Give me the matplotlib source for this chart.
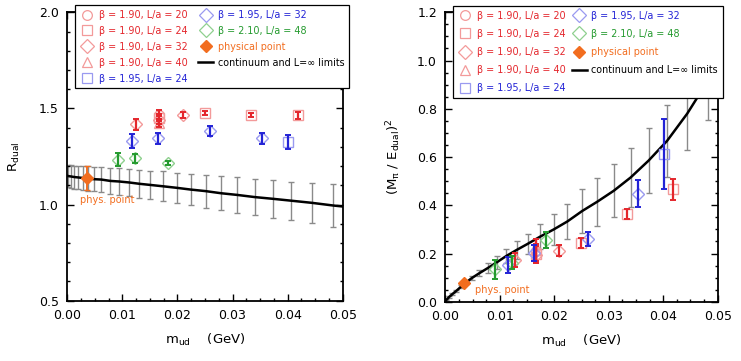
import numpy as np
import matplotlib
matplotlib.use('Agg')
import matplotlib.pyplot as plt
from matplotlib.lines import Line2D
from matplotlib.ticker import MultipleLocator

plt.rcParams['font.family'] = ['DejaVu Sans']
plt.rcParams['mathtext.default'] = 'regular'

RED, BLUE, GREEN, ORANGE = '#e4262c', '#2323d6', '#249a2e', '#f26d1f'
PRED, PBLUE, PGREEN = '#f39a9a', '#9a9af0', '#8fd08f'

# ---- left panel: R_dual vs m_ud ----
l_b190_20_x, l_b190_20_y, l_b190_20_e = [0.0167], [1.468], [0.025]
l_b190_24_x = [0.0167, 0.0250, 0.03335, 0.0418]
l_b190_24_y = [1.452, 1.477, 1.464, 1.465]
l_b190_24_e = [0.020, 0.012, 0.010, 0.018]
l_b190_32_x = [0.01247, 0.0167, 0.02095]
l_b190_32_y = [1.417, 1.438, 1.465]
l_b190_32_e = [0.028, 0.020, 0.016]
l_b190_40_x, l_b190_40_y, l_b190_40_e = [0.0167], [1.425], [0.020]
l_b195_24_x, l_b195_24_y, l_b195_24_e = [0.0401], [1.324], [0.037]
l_b195_32_x = [0.0118, 0.01653, 0.0259, 0.03535]
l_b195_32_y = [1.330, 1.344, 1.385, 1.344]
l_b195_32_e = [0.036, 0.029, 0.026, 0.029]
l_b210_48_x = [0.00915, 0.0123, 0.01822]
l_b210_48_y = [1.234, 1.240, 1.214]
l_b210_48_e = [0.032, 0.023, 0.010]
l_phys_x, l_phys_y, l_phys_e = [0.0036], [1.139], [0.061]

# continuum band (same m_ud grid on both panels)
band_x = [0.0002, 0.0007, 0.0013, 0.0020, 0.0029, 0.0038, 0.0049, 0.0062,
          0.0078, 0.0094, 0.0112, 0.0131, 0.0151, 0.0174, 0.0199, 0.0224,
          0.0251, 0.0279, 0.0309, 0.0340, 0.0373, 0.0407, 0.0444, 0.0483]
l_band_y = [1.148, 1.146, 1.143, 1.141, 1.138, 1.135, 1.132, 1.130,
            1.123, 1.120, 1.115, 1.108, 1.102, 1.095, 1.087, 1.078,
            1.070, 1.059, 1.050, 1.039, 1.030, 1.020, 1.009, 0.995]
l_band_e = [0.057, 0.059, 0.060, 0.062, 0.063, 0.064, 0.064, 0.066,
            0.068, 0.071, 0.071, 0.074, 0.075, 0.077, 0.078, 0.082,
            0.086, 0.088, 0.093, 0.095, 0.099, 0.099, 0.104, 0.111]
l_line_x = [0.0] + band_x + [0.05]
l_line_y = [1.150] + l_band_y + [0.990]

# ---- right panel: (M_pi / E_dual)^2 vs m_ud ----
r_b190_20_x, r_b190_20_y, r_b190_20_e = [0.0166], [0.210], [0.050]
r_b190_24_x = [0.0166, 0.02485, 0.0333, 0.04185]
r_b190_24_y = [0.200, 0.245, 0.363, 0.466]
r_b190_24_e = [0.040, 0.020, 0.021, 0.043]
r_b190_32_x = [0.0128, 0.0166, 0.02095]
r_b190_32_y = [0.172, 0.195, 0.2115]
r_b190_32_e = [0.029, 0.035, 0.023]
r_b190_40_x, r_b190_40_y, r_b190_40_e = [0.0166], [0.215], [0.045]
r_b195_24_x, r_b195_24_y, r_b195_24_e = [0.04014], [0.611], [0.145]
r_b195_32_x = [0.01157, 0.0162, 0.0261, 0.03543]
r_b195_32_y = [0.152, 0.203, 0.259, 0.448]
r_b195_32_e = [0.032, 0.033, 0.029, 0.057]
r_b210_48_x = [0.00913, 0.0122, 0.01848]
r_b210_48_y = [0.134, 0.162, 0.256]
r_b210_48_e = [0.038, 0.028, 0.035]
r_phys_x, r_phys_y = [0.0035], [0.076]

r_band_y = [0.008, 0.020, 0.032, 0.045, 0.063, 0.080, 0.099, 0.118,
            0.140, 0.163, 0.190, 0.215, 0.240, 0.270, 0.300, 0.333,
            0.376, 0.415, 0.460, 0.515, 0.585, 0.667, 0.780, 0.920]
r_band_e = [0.002, 0.003, 0.004, 0.005, 0.006, 0.007, 0.009, 0.012,
            0.020, 0.028, 0.029, 0.036, 0.043, 0.052, 0.064, 0.074,
            0.090, 0.100, 0.110, 0.122, 0.134, 0.150, 0.150, 0.165]
r_line_x = [0.0] + band_x + [0.05]
r_line_y = [0.0] + r_band_y + [1.00]

series_style = [
    # label, marker, pale colour, dark colour
    ('β = 1.90, L/a = 20', 'o', PRED, RED),
    ('β = 1.90, L/a = 24', 's', PRED, RED),
    ('β = 1.90, L/a = 32', 'D', PRED, RED),
    ('β = 1.90, L/a = 40', '^', PRED, RED),
    ('β = 1.95, L/a = 24', 's', PBLUE, BLUE),
    ('β = 1.95, L/a = 32', 'D', PBLUE, BLUE),
    ('β = 2.10, L/a = 48', 'D', PGREEN, GREEN),
]


def draw_panel(ax, series, band_y, band_e, line_x, line_y, phys, phys_e):
    ax.errorbar(band_x, band_y, yerr=band_e, fmt='none', ecolor='#8a8a8a',
                elinewidth=1.0, capsize=2, capthick=1.0, zorder=1)
    ax.plot(line_x, line_y, color='black', lw=1.8, zorder=2)
    for (lab, mk, pale, dark), (xs, ys, es) in zip(series_style, series):
        ms = 6 if mk == 'D' else 7
        ax.plot(xs, ys, ls='none', marker=mk, mfc='none', mec=pale,
                ms=ms, mew=1.0, zorder=3)
        ax.errorbar(xs, ys, yerr=es, fmt='none', ecolor=dark,
                    elinewidth=1.6, capsize=2, capthick=1.4, zorder=4)
    px, py = phys
    if phys_e is not None:
        ax.errorbar(px, py, yerr=phys_e, fmt='none', ecolor=ORANGE,
                    elinewidth=1.4, capsize=2, zorder=5)
    ax.plot(px, py, ls='none', marker='D', color=ORANGE, ms=6, zorder=6)

    handles = []
    for lab, mk, pale, dark in series_style:
        handles.append(Line2D([], [], ls='none', marker=mk, mfc='none',
                              mec=pale, ms=7, mew=0.9, label=lab))
    handles.append(Line2D([], [], ls='none', marker='D', color=ORANGE,
                          ms=6, label='physical point'))
    handles.append(Line2D([], [], color='black', lw=1.8,
                          label='continuum and L=∞ limits'))
    txt_cols = [RED, RED, RED, RED, BLUE, BLUE, GREEN, ORANGE, 'black']
    return handles, txt_cols


def style_axes(ax):
    ax.tick_params(which='both', direction='in', top=True, right=True,
                   labelsize=9, width=1.0)
    ax.tick_params(which='major', length=5)
    ax.tick_params(which='minor', length=2.5)
    ax.tick_params(axis='x', which='major', pad=6)
    ax.tick_params(axis='y', which='major', pad=6)
    for s in ax.spines.values():
        s.set_linewidth(1.3)
    ax.set_xlim(0, 0.05)
    ax.xaxis.set_major_locator(MultipleLocator(0.01))
    ax.xaxis.set_minor_locator(MultipleLocator(0.0025))
    ax.xaxis.set_major_formatter(plt.FormatStrFormatter('%.2f'))
    ax.set_xlabel('m$_{ud}$    (GeV)', fontsize=9.5, labelpad=7)


def add_legend(ax, handles, cols, anchor, spacing):
    leg = ax.legend(handles=handles, ncol=2, loc='upper left',
                    bbox_to_anchor=anchor, mode='expand', fontsize=6.9,
                    frameon=True, fancybox=False, borderpad=0.5,
                    labelspacing=spacing, handlelength=1.6, handletextpad=0.45,
                    columnspacing=0.2, borderaxespad=0.0)
    leg.get_frame().set_edgecolor('black')
    leg.get_frame().set_linewidth(0.9)
    leg.get_frame().set_alpha(1.0)
    leg.set_zorder(10)
    for t, c in zip(leg.get_texts(), cols):
        t.set_color(c)


fig = plt.figure(figsize=(7.41, 3.61), dpi=100)
ax1 = fig.add_axes([0.0908, 0.167, 0.3717, 0.799])
ax2 = fig.add_axes([0.601, 0.164, 0.3676, 0.802])

left_series = [
    (l_b190_20_x, l_b190_20_y, l_b190_20_e),
    (l_b190_24_x, l_b190_24_y, l_b190_24_e),
    (l_b190_32_x, l_b190_32_y, l_b190_32_e),
    (l_b190_40_x, l_b190_40_y, l_b190_40_e),
    (l_b195_24_x, l_b195_24_y, l_b195_24_e),
    (l_b195_32_x, l_b195_32_y, l_b195_32_e),
    (l_b210_48_x, l_b210_48_y, l_b210_48_e),
]
right_series = [
    (r_b190_20_x, r_b190_20_y, r_b190_20_e),
    (r_b190_24_x, r_b190_24_y, r_b190_24_e),
    (r_b190_32_x, r_b190_32_y, r_b190_32_e),
    (r_b190_40_x, r_b190_40_y, r_b190_40_e),
    (r_b195_24_x, r_b195_24_y, r_b195_24_e),
    (r_b195_32_x, r_b195_32_y, r_b195_32_e),
    (r_b210_48_x, r_b210_48_y, r_b210_48_e),
]

h, c = draw_panel(ax1, left_series, l_band_y, l_band_e, l_line_x, l_line_y,
                  (l_phys_x, l_phys_y), l_phys_e)
style_axes(ax1)
ax1.set_ylim(0.5, 2.0)
ax1.yaxis.set_major_locator(MultipleLocator(0.5))
ax1.yaxis.set_minor_locator(MultipleLocator(0.1))
ax1.yaxis.set_major_formatter(plt.FormatStrFormatter('%.1f'))
ax1.set_ylabel('R$_{dual}$', fontsize=9.5, labelpad=12)
ax1.text(0.0023, 1.026, 'phys. point', color=ORANGE, fontsize=7,
         va='center', ha='left')
add_legend(ax1, h, c, (0.028, 1.025, 0.995, 0.0), 0.62)

h, c = draw_panel(ax2, right_series, r_band_y, r_band_e, r_line_x, r_line_y,
                  (r_phys_x, r_phys_y), None)
style_axes(ax2)
ax2.set_ylim(0.0, 1.2)
ax2.yaxis.set_major_locator(MultipleLocator(0.2))
ax2.yaxis.set_minor_locator(MultipleLocator(0.05))
ax2.yaxis.set_major_formatter(plt.FormatStrFormatter('%.1f'))
ax2.set_ylabel('(M$_{\\pi}$ / E$_{dual}$)$^2$', fontsize=9.5, labelpad=10)
ax2.text(0.0055, 0.049, 'phys. point', color=ORANGE, fontsize=7,
         va='center', ha='left')
add_legend(ax2, h, c, (0.028, 1.022, 0.99, 0.0), 0.85)

fig.savefig('out.png', dpi=100)
